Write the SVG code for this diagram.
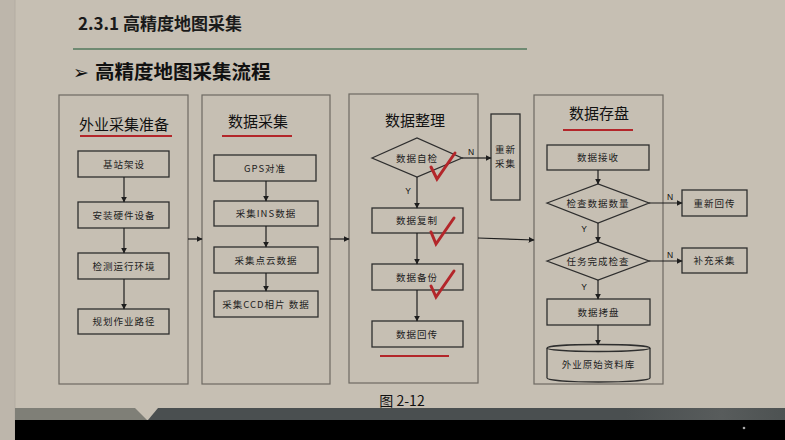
<svg xmlns="http://www.w3.org/2000/svg" width="785" height="440" viewBox="0 0 785 440">
<defs>
<style>
.cjk{font-family:"Noto Sans CJK SC","Noto Sans",sans-serif;}
.panel{fill:none;stroke:#6e6962;stroke-width:1.2;}
.box{fill:none;stroke:#2e2e2e;stroke-width:1.3;}
.bt{font-family:"Noto Sans CJK SC","Noto Sans",sans-serif;font-size:9.5px;fill:#222;text-anchor:middle;letter-spacing:1px;}
.pt{font-family:"Noto Sans CJK SC","Noto Sans",sans-serif;font-size:15px;fill:#111;text-anchor:middle;}
.yn{font-family:"Liberation Sans",Arial,sans-serif;font-size:8.5px;fill:#111;text-anchor:middle;}
.red{stroke:#b3262a;stroke-width:2.2;fill:none;}
.chk{stroke:#b3262a;stroke-width:3;fill:none;stroke-linecap:round;stroke-linejoin:miter;}
.con{stroke:#1e1e1e;stroke-width:1.2;fill:none;marker-end:url(#ah);}
</style>
<marker id="ah" viewBox="0 0 10 10" refX="9" refY="5" markerWidth="6" markerHeight="6" markerUnits="userSpaceOnUse" orient="auto">
<path d="M0,0 L10,5 L0,10 z" fill="#1e1e1e"/>
</marker>
<linearGradient id="bandg" x1="0" x2="1" y1="0" y2="0">
<stop offset="0" stop-color="#4a4f50"/>
<stop offset="0.75" stop-color="#4a4f50"/>
<stop offset="0.9" stop-color="#585c5c"/>
<stop offset="1" stop-color="#4d5252"/>
</linearGradient>
</defs>

<g id="background">
<rect x="0" y="0" width="785" height="440" fill="#c6bfb3"/>
<rect x="0" y="0" width="15" height="440" fill="#bdb6ab"/>
<line x1="15" y1="0" x2="15" y2="440" stroke="#b3ada2" stroke-width="1"/>
<polygon points="15,408 135,408 147,420 15,420" fill="#7f7f77"/>
<polygon points="158,408 785,408 785,420 148,420" fill="url(#bandg)"/>
<rect x="15" y="420" width="770" height="20" fill="#000"/>
<circle cx="744" cy="428" r="1.3" fill="#aaa"/>
</g>

<g id="header">
<text x="78" y="30" class="cjk" font-size="17" font-weight="bold" fill="#1a1a1a">2.3.1 高精度地图采集</text>
<line x1="73" y1="49" x2="527" y2="49" stroke="#6f8a72" stroke-width="2.2"/>
<text x="73" y="79" font-family="DejaVu Sans,sans-serif" font-size="19" fill="#111">➢</text>
<text x="95" y="79" class="cjk" font-size="19.5" font-weight="bold" fill="#111">高精度地图采集流程</text>
</g>

<g id="panel1">
<rect class="panel" x="59" y="95" width="129" height="289"/>
<text class="pt" x="124" y="130">外业采集准备</text>
<line class="red" x1="80" y1="136" x2="172" y2="136"/>
</g>
<g id="n-jizhan"><rect class="box" x="78" y="151" width="91" height="26"/><text class="bt" x="124" y="167.5">基站架设</text></g>
<g id="n-anzhuang"><rect class="box" x="78" y="202" width="91" height="26"/><text class="bt" x="124" y="218.5">安装硬件设备</text></g>
<g id="n-jiance"><rect class="box" x="78" y="253" width="91" height="26"/><text class="bt" x="124" y="269.5">检测运行环境</text></g>
<g id="n-guihua"><rect class="box" x="78" y="309" width="91" height="25"/><text class="bt" x="124" y="325">规划作业路径</text></g>

<g id="panel2">
<rect class="panel" x="202" y="95" width="128" height="289"/>
<text class="pt" x="258" y="127">数据采集</text>
<line class="red" x1="222" y1="136" x2="292" y2="136"/>
</g>
<g id="n-gps"><rect class="box" x="214" y="155" width="102" height="26"/><text class="bt" x="265" y="171.5" letter-spacing="0.3">GPS对准</text></g>
<g id="n-ins"><rect class="box" x="214" y="201" width="104" height="25"/><text class="bt" x="266" y="217" letter-spacing="0.3">采集INS数据</text></g>
<g id="n-dianyun"><rect class="box" x="214" y="247" width="104" height="26"/><text class="bt" x="266" y="263.5">采集点云数据</text></g>
<g id="n-ccd"><rect class="box" x="214" y="291" width="104" height="26"/><text class="bt" x="266" y="307.5" letter-spacing="0.3">采集CCD相片 数据</text></g>

<g id="panel3">
<rect class="panel" x="349" y="94" width="129" height="289"/>
<text class="pt" x="415" y="126">数据整理</text>
<line class="red" x1="380" y1="356" x2="449" y2="356"/>
</g>
<g id="n-zijian"><polygon class="box" points="372,158 417,138 462,158 417,177"/><text class="bt" x="417" y="161.5">数据自检</text></g>
<g id="n-chongxin"><rect class="box" x="491" y="114" width="29" height="86"/><text class="bt" x="505.5" y="153" letter-spacing="0.5">重新</text><text class="bt" x="505.5" y="167" letter-spacing="0.5">采集</text></g>
<g id="n-fuzhi"><rect class="box" x="372" y="208" width="91" height="25"/><text class="bt" x="417" y="224">数据复制</text></g>
<g id="n-beifen"><rect class="box" x="372" y="264" width="91" height="26"/><text class="bt" x="417" y="280.5">数据备份</text></g>
<g id="n-huichuan"><rect class="box" x="372" y="321" width="91" height="26"/><text class="bt" x="417" y="337.5">数据回传</text></g>
<g id="checks">
<path class="chk" d="M431,167 L437,179 L455,153"/>
<path class="chk" d="M431,232 L436,244 L454,218"/>
<path class="chk" d="M431,286 L436,297 L454,271"/>
</g>

<g id="panel4">
<rect class="panel" x="534" y="95" width="129" height="289"/>
<text class="pt" x="599" y="119">数据存盘</text>
<line class="red" x1="563" y1="130" x2="633" y2="130"/>
</g>
<g id="n-jieshou"><rect class="box" x="547" y="145" width="102" height="25"/><text class="bt" x="598" y="161">数据接收</text></g>
<g id="n-shuliang"><polygon class="box" points="547,203 598,184 649,203 598,223"/><text class="bt" x="598" y="206.5">检查数据数量</text></g>
<g id="n-chongxinhuichuan"><rect class="box" x="682" y="190" width="65" height="26"/><text class="bt" x="714.5" y="206.5">重新回传</text></g>
<g id="n-renwu"><polygon class="box" points="547,261 598,242 649,261 598,280"/><text class="bt" x="598" y="264.5">任务完成检查</text></g>
<g id="n-buchong"><rect class="box" x="682" y="248" width="65" height="25"/><text class="bt" x="714.5" y="264">补充采集</text></g>
<g id="n-kaopan"><rect class="box" x="547" y="299" width="103" height="26"/><text class="bt" x="598.5" y="315.5">数据拷盘</text></g>
<g id="n-ziliaoku">
<path class="box" d="M547,348 L547,378 A51.5,4 0 0 0 650,378 L650,348"/>
<ellipse class="box" cx="598.5" cy="348" rx="51.5" ry="3.5"/>
<text class="bt" x="598.5" y="367.5">外业原始资料库</text>
</g>

<g id="connectors">
<line class="con" x1="124" y1="177" x2="124" y2="202"/>
<line class="con" x1="124" y1="228" x2="124" y2="253"/>
<line class="con" x1="124" y1="279" x2="124" y2="309"/>
<line class="con" x1="188" y1="239" x2="202" y2="239"/>
<line class="con" x1="266" y1="181" x2="266" y2="201"/>
<line class="con" x1="266" y1="226" x2="266" y2="247"/>
<line class="con" x1="266" y1="273" x2="266" y2="291"/>
<line class="con" x1="330" y1="239" x2="349" y2="239"/>
<line class="con" x1="462" y1="158" x2="491" y2="158"/>
<text class="yn" x="471" y="155">N</text>
<line class="con" x1="417" y1="177" x2="417" y2="208"/>
<text class="yn" x="408" y="194">Y</text>
<line class="con" x1="417" y1="233" x2="417" y2="264"/>
<line class="con" x1="417" y1="290" x2="417" y2="321"/>
<line class="con" x1="478" y1="238" x2="534" y2="240"/>
<line class="con" x1="598" y1="170" x2="598" y2="184"/>
<line class="con" x1="649" y1="203" x2="682" y2="203"/>
<text class="yn" x="670" y="200">N</text>
<line class="con" x1="598" y1="223" x2="598" y2="242"/>
<text class="yn" x="584" y="232">Y</text>
<line class="con" x1="649" y1="261" x2="682" y2="261"/>
<text class="yn" x="670" y="258">N</text>
<line class="con" x1="598" y1="280" x2="598" y2="299"/>
<text class="yn" x="584" y="290">Y</text>
<line class="con" x1="598" y1="325" x2="598" y2="345"/>
</g>

<g id="caption">
<text x="402" y="406" class="cjk" font-size="14" fill="#111" text-anchor="middle">图 2-12</text>
</g>
</svg>
